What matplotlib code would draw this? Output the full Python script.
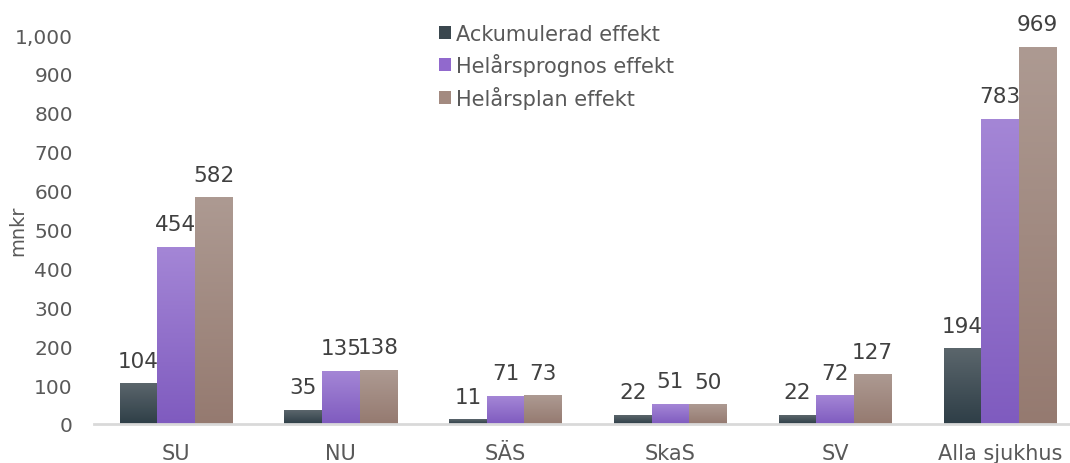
import numpy as np
import matplotlib
matplotlib.use('Agg')
import matplotlib.pyplot as plt
from matplotlib.colors import to_rgb
from matplotlib.patches import Patch

categories = ['SU', 'NU', 'SÄS', 'SkaS', 'SV', 'Alla sjukhus']
series_names = ['Ackumulerad effekt', 'Helårsprognos effekt', 'Helårsplan effekt']
ackumulerad = [104, 35, 11, 22, 22, 194]
prognos = [454, 135, 71, 51, 72, 783]
plan = [582, 138, 73, 50, 127, 969]
yticks = [0, 100, 200, 300, 400, 500, 600, 700, 800, 900, 1000]

# top / bottom colours of each bar gradient, plus legend swatch colour
grad = [('#5b666c', '#2e3e47'), ('#a486d6', '#7f5bbf'), ('#ad9a92', '#957a70')]
swatch = ['#3a474e', '#9169cd', '#a38a80']

W, H = 1070, 464
fig = plt.figure(figsize=(W / 100, H / 100), dpi=100)
ax = fig.add_axes([93.6 / W, 39 / H, 1 - 93.6 / W, 389 / H])

bw = 0.228
x = np.arange(len(categories))
for k, vals in enumerate([ackumulerad, prognos, plan]):
    top, bot = np.array(to_rgb(grad[k][0])), np.array(to_rgb(grad[k][1]))
    t = np.linspace(0, 1, 128)[:, None]
    img = (top * (1 - t) + bot * t)[:, None, :]
    for i, v in enumerate(vals):
        xc = x[i] + (k - 1) * bw
        ax.imshow(img, extent=(xc - bw / 2, xc + bw / 2, 0, v), aspect='auto',
                  interpolation='bilinear', zorder=2)
        ax.annotate(str(v), (xc, v), xytext=(0, 17), textcoords='offset pixels',
                    ha='center', va='baseline', fontsize=15.5, color='#404040',
                    annotation_clip=False)

ax.set_xlim(-0.5, 5.425)
ax.set_ylim(0, 1000)
ax.set_xticks(x)
ax.set_xticklabels(categories)
ax.set_yticks(yticks)
ax.set_yticklabels([f'{v:,}' for v in yticks])
ax.tick_params(length=0, labelsize=14.5, colors='#595959')
ax.tick_params(axis='x', pad=14, labelsize=15)
ax.tick_params(axis='y', pad=15)
for s in ['top', 'right', 'left']:
    ax.spines[s].set_visible(False)
ax.spines['bottom'].set_color('#d9d9d9')
ax.spines['bottom'].set_linewidth(2)
ax.set_ylabel('mnkr', fontsize=14, color='#595959')
ax.yaxis.set_label_coords(-0.068, 0.5)

handles = [Patch(facecolor=c, edgecolor='none') for c in swatch]
fig.legend(handles, series_names, loc='upper left', bbox_to_anchor=(420 / W, 1 - 6 / H),
           frameon=False, fontsize=15, labelcolor='#595959', handlelength=0.6,
           handleheight=0.6, handletextpad=0.25, labelspacing=0.45)

fig.savefig('out.png', dpi=100)
